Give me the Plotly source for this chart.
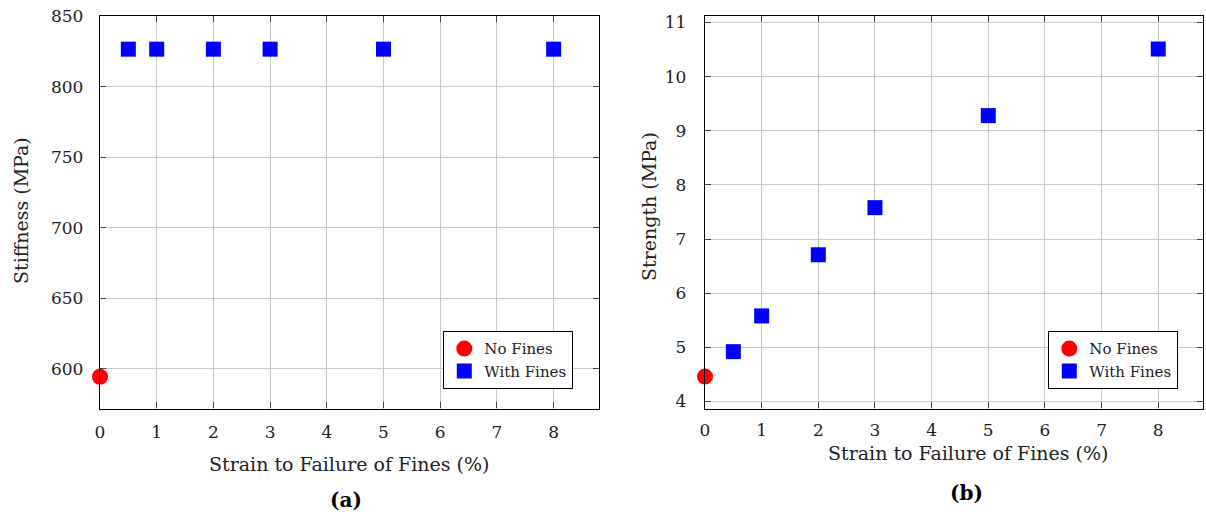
import plotly.graph_objects as go

# Data
nofines_x = [0]
stiff_nofines = [594.5]
strength_nofines = [4.46]

fines_x = [0.5, 1, 2, 3, 5, 8]
stiff_fines = [826.5, 826.5, 826.5, 826.5, 826.5, 826.5]
strength_fines = [4.92, 5.58, 6.71, 7.58, 9.28, 10.51]

x_ticks = [0, 1, 2, 3, 4, 5, 6, 7, 8]
stiff_ticks = [600, 650, 700, 750, 800, 850]
strength_ticks = [4, 5, 6, 7, 8, 9, 10, 11]

FONT = "DejaVu Serif, serif"
RED = "#ff0000"
BLUE = "#0000ff"

fig = go.Figure()

fig.add_trace(go.Scatter(x=nofines_x, y=stiff_nofines, mode="markers", name="No Fines",
                         marker=dict(symbol="circle", size=16, color=RED),
                         xaxis="x", yaxis="y", legend="legend", cliponaxis=False))
fig.add_trace(go.Scatter(x=fines_x, y=stiff_fines, mode="markers", name="With Fines",
                         marker=dict(symbol="square", size=15, color=BLUE),
                         xaxis="x", yaxis="y", legend="legend", cliponaxis=False))
fig.add_trace(go.Scatter(x=nofines_x, y=strength_nofines, mode="markers", name="No Fines",
                         marker=dict(symbol="circle", size=16, color=RED),
                         xaxis="x2", yaxis="y2", legend="legend2", cliponaxis=False))
fig.add_trace(go.Scatter(x=fines_x, y=strength_fines, mode="markers", name="With Fines",
                         marker=dict(symbol="square", size=15, color=BLUE),
                         xaxis="x2", yaxis="y2", legend="legend2", cliponaxis=False))

W, H = 1206, 514
ydom = [1 - 408.5 / H, 1 - 16 / H]

axis_common = dict(
    showgrid=True, gridcolor="#c8c8c8", gridwidth=1,
    showline=True, linecolor="black", linewidth=1.3, mirror="ticks",
    ticks="inside", ticklen=6, tickcolor="#444444", tickwidth=1,
    zeroline=False, automargin=False,
    tickfont=dict(family=FONT, size=17, color="#222222"),
)

legend_common = dict(
    xanchor="right", yanchor="bottom",
    bordercolor="black", borderwidth=1.3, bgcolor="white",
    font=dict(family=FONT, size=15, color="#222222"),
    itemwidth=30, tracegroupgap=0,
)

fig.update_layout(
    width=W, height=H,
    margin=dict(l=0, r=0, t=0, b=0, pad=0, autoexpand=False),
    paper_bgcolor="white", plot_bgcolor="white",
    font=dict(family=FONT, color="#222222"),
    xaxis=dict(domain=[100 / W, 599 / W], range=[0, 8.8], tickvals=x_ticks,
               ticklabelstandoff=8, anchor="y", **axis_common),
    yaxis=dict(domain=ydom, range=[572, 850], tickvals=stiff_ticks,
               ticklabelstandoff=12, anchor="x", **axis_common),
    xaxis2=dict(domain=[705 / W, 1203 / W], range=[0, 8.79], tickvals=x_ticks,
                ticklabelstandoff=6, anchor="y2", **axis_common),
    yaxis2=dict(domain=ydom, range=[3.87, 11.12], tickvals=strength_ticks,
                ticklabelstandoff=14, anchor="x2", **axis_common),
    legend=dict(x=573 / W, y=1 - 389 / H, **legend_common),
    legend2=dict(x=1178 / W, y=1 - 389 / H, **legend_common),
)

ann_font = dict(family=FONT, size=19, color="#222222")
fig.add_annotation(text="Strain to Failure of Fines (%)", x=349 / W, y=1 - 464 / H,
                   xref="paper", yref="paper", showarrow=False, font=ann_font,
                   xanchor="center", yanchor="middle")
fig.add_annotation(text="Strain to Failure of Fines (%)", x=968 / W, y=1 - 453 / H,
                   xref="paper", yref="paper", showarrow=False, font=ann_font,
                   xanchor="center", yanchor="middle")
fig.add_annotation(text="Stiffness (MPa)", x=21 / W, y=1 - 211 / H, textangle=-90,
                   xref="paper", yref="paper", showarrow=False, font=ann_font,
                   xanchor="center", yanchor="middle")
fig.add_annotation(text="Strength (MPa)", x=649 / W, y=1 - 207 / H, textangle=-90,
                   xref="paper", yref="paper", showarrow=False, font=ann_font,
                   xanchor="center", yanchor="middle")
fig.add_annotation(text="<b>(a)</b>", x=346 / W, y=1 - 500 / H,
                   xref="paper", yref="paper", showarrow=False,
                   font=dict(family=FONT, size=20, color="black"),
                   xanchor="center", yanchor="middle")
fig.add_annotation(text="<b>(b)</b>", x=966 / W, y=1 - 493 / H,
                   xref="paper", yref="paper", showarrow=False,
                   font=dict(family=FONT, size=20, color="black"),
                   xanchor="center", yanchor="middle")

fig.write_html("out.html")
